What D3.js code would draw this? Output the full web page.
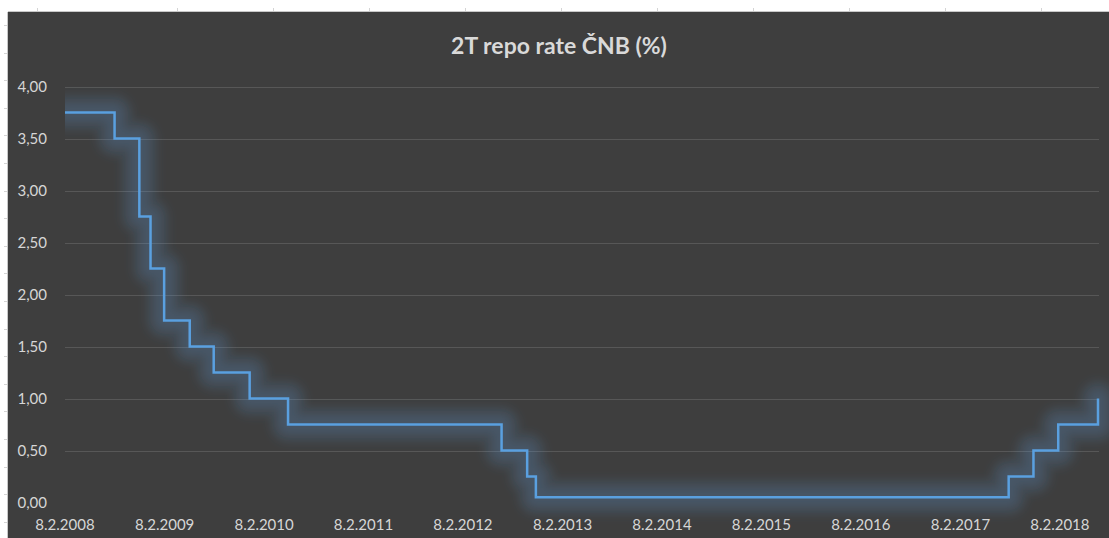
<!DOCTYPE html>
<html>
<head>
<meta charset="utf-8">
<script src="https://cdn.jsdelivr.net/npm/d3@7"></script>
<style>
  html, body { margin: 0; padding: 0; background: #fff; }
  svg { display: block; font-family: 'Lato', 'Open Sans', sans-serif; }
</style>
</head>
<body>
<div id="chart"></div>
<script>
// ČNB 2T repo rate, change dates (d.m.yyyy) and new rate
const changeDates = ['8.2.2008', '8.8.2008', '7.11.2008', '18.12.2008', '6.2.2009', '11.5.2009',
  '7.8.2009', '17.12.2009', '7.5.2010', '29.6.2012', '1.10.2012', '2.11.2012',
  '4.8.2017', '3.11.2017', '2.2.2018', '28.6.2018'];
const rates = [3.75, 3.50, 2.75, 2.25, 1.75, 1.50, 1.25, 1.00, 0.75, 0.50, 0.25, 0.05,
  0.25, 0.50, 0.75, 1.00];
const yTicks = [0, 0.5, 1, 1.5, 2, 2.5, 3, 3.5, 4];
const xTickYears = [2008, 2009, 2010, 2011, 2012, 2013, 2014, 2015, 2016, 2017, 2018];
const title = '2T repo rate ČNB (%)';

const W = 1109, H = 538;
const parse = d3.timeParse('%d.%m.%Y');
const data = changeDates.map((d, i) => ({ date: parse(d), value: rates[i] }));

const svg = d3.select('#chart').append('svg').attr('width', W).attr('height', H);

// spreadsheet cell borders peeking around the chart object
const sheet = svg.append('g').attr('stroke', '#d4d4d4').attr('stroke-width', 1);
[37, 177, 273, 369, 465, 561, 657, 753, 849, 945, 1041].forEach(x => {
  sheet.append('line').attr('x1', x + 0.5).attr('x2', x + 0.5).attr('y1', 8).attr('y2', 12);
});
d3.range(25, 538, 27.6).forEach(y => {
  sheet.append('line').attr('x1', 4).attr('x2', 8).attr('y1', Math.round(y) + 0.5).attr('y2', Math.round(y) + 0.5);
});

// chart area
svg.append('rect').attr('x', 8).attr('y', 12).attr('width', W - 8).attr('height', H - 12)
  .attr('fill', '#3e3e3e');
svg.append('line').attr('x1', 8).attr('x2', W).attr('y1', 11.5).attr('y2', 11.5).attr('stroke', '#c8c8c8');
svg.append('line').attr('x1', 7.5).attr('x2', 7.5).attr('y1', 12).attr('y2', H).attr('stroke', '#c8c8c8');

const x = d3.scaleTime().domain([data[0].date, data[data.length - 1].date]).range([65, 1098]);
const y = d3.scaleLinear().domain([0, 4]).range([502.5, 86.5]);

svg.append('text').attr('x', 559).attr('y', 54).attr('text-anchor', 'middle')
  .style('font-size', '23px').style('font-weight', 'bold').style('fill', '#d9d9d9')
  .text(title);

// gridlines
svg.append('g').selectAll('line').data(yTicks.filter(d => d > 0)).enter().append('line')
  .attr('x1', 65).attr('x2', 1099)
  .attr('y1', d => Math.round(y(d)) + 0.5).attr('y2', d => Math.round(y(d)) + 0.5)
  .attr('stroke', '#575757').attr('stroke-width', 1);

// y labels
const fmt = d => d.toFixed(2).replace('.', ',');
svg.append('g').selectAll('text').data(yTicks).enter().append('text')
  .attr('x', 47).attr('y', d => y(d) + 5.5).attr('text-anchor', 'end')
  .style('font-size', '15px').style('fill', '#d6d6d6')
  .text(fmt);

// x labels
const xTicks = xTickYears.map(yr => new Date(yr, 1, 8));
svg.append('g').selectAll('text').data(xTicks).enter().append('text')
  .attr('x', d => x(d)).attr('y', 529.5).attr('text-anchor', 'middle')
  .style('font-size', '15px').style('fill', '#d6d6d6')
  .text(d3.timeFormat('%-d.%-m.%Y'));

// step line with glow, glow clipped to the plot area
const defs = svg.append('defs');
defs.append('filter').attr('id', 'glow').attr('x', '-20%').attr('y', '-20%').attr('width', '140%').attr('height', '140%')
  .append('feGaussianBlur').attr('stdDeviation', 4);
defs.append('clipPath').attr('id', 'plot').append('rect')
  .attr('x', 65).attr('y', 60).attr('width', 1044).attr('height', 470);

const line = d3.line().x(d => x(d.date)).y(d => y(d.value)).curve(d3.curveStepAfter);

const glowG = svg.append('g').attr('clip-path', 'url(#plot)');
glowG.append('path').datum(data).attr('d', line).attr('fill', 'none')
  .attr('stroke', '#5b9bd5').attr('stroke-opacity', 0.13).attr('stroke-width', 36)
  .attr('stroke-linejoin', 'round').attr('stroke-linecap', 'round').attr('filter', 'url(#glow)');
glowG.append('path').datum(data).attr('d', line).attr('fill', 'none')
  .attr('stroke', '#5b9bd5').attr('stroke-opacity', 0.15).attr('stroke-width', 18)
  .attr('stroke-linejoin', 'round').attr('stroke-linecap', 'round').attr('filter', 'url(#glow)');
svg.append('path').datum(data).attr('d', line).attr('fill', 'none')
  .attr('stroke', '#5aa0e0').attr('stroke-width', 2.5);
</script>
</body>
</html>
